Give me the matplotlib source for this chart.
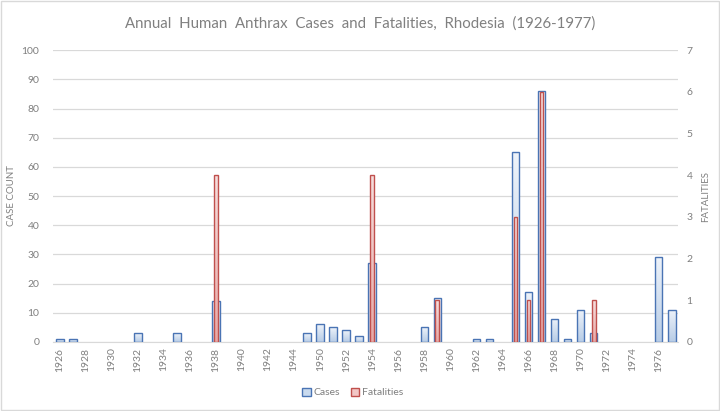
import numpy as np
import matplotlib.pyplot as plt
from matplotlib.patches import Patch, Rectangle

# categories as they appear on the source axis (one gap year between 1944 and 1950)
years = [str(y) for y in range(1926, 1945)] + ["1949"] + [str(y) for y in range(1950, 1978)]

case_values = {
    "1926": 1, "1927": 1, "1932": 3, "1935": 3, "1938": 14,
    "1949": 3, "1950": 6, "1951": 5, "1952": 4, "1953": 2, "1954": 27,
    "1958": 5, "1959": 15, "1962": 1, "1963": 1,
    "1965": 65, "1966": 17, "1967": 86, "1968": 8, "1969": 1,
    "1970": 11, "1971": 3, "1976": 29, "1977": 11,
}
fatality_values = {
    "1938": 4, "1954": 4, "1959": 1, "1965": 3, "1966": 1, "1967": 6, "1971": 1,
}

cases = [case_values.get(y, 0) for y in years]
fatalities = [fatality_values.get(y, 0) for y in years]

TXT = "#7f7f7f"
plt.rcParams["font.family"] = ["Lato", "DejaVu Sans"]


def gradient_bars(ax, bars, top_color, bottom_color):
    """Fill each bar with a vertical gradient clipped to its outline."""
    grad = np.linspace(0, 1, 64).reshape(-1, 1)
    c0 = np.array(plt.matplotlib.colors.to_rgb(top_color))
    c1 = np.array(plt.matplotlib.colors.to_rgb(bottom_color))
    img = (c0 + (c1 - c0) * grad[:, :, None]).reshape(64, 1, 3)
    for b in bars:
        h = b.get_height()
        if h <= 0:
            b.set_visible(False)  # empty years show nothing
            continue
        x0 = b.get_x()
        w = b.get_width()
        im = ax.imshow(img, extent=(x0, x0 + w, 0, h), aspect="auto",
                       origin="upper", zorder=b.get_zorder() - 0.1)
        im.set_clip_path(b)


fig = plt.figure(figsize=(7.2, 4.11), dpi=100)
ax = fig.add_axes([0.074, 0.168, 0.868, 0.71])
ax2 = ax.twinx()

x = np.arange(len(years))

bars_c = ax.bar(x, cases, width=0.58, facecolor="none", edgecolor="#4a74b4",
                linewidth=1.0, zorder=3)
gradient_bars(ax, bars_c, "#eef3fa", "#b7cce6")

bars_f = ax2.bar(x, fatalities, width=0.3, facecolor="none", edgecolor="#c0504d",
                 linewidth=1.0, zorder=3)
gradient_bars(ax2, bars_f, "#f6dedd", "#e8a9a7")

ax.set_xlim(-0.5, len(years) - 0.5)
ax.set_ylim(0, 100)
ax2.set_ylim(0, 7)
ax.set_yticks(range(0, 101, 10))
ax2.set_yticks(range(0, 8))

ax.set_xticks(x[::2])
ax.set_xticklabels(years[::2], rotation=90)

ax.grid(axis="y", color="#d9d9d9", linewidth=0.9, zorder=0)
ax.set_axisbelow(True)

for a in (ax, ax2):
    for s in a.spines.values():
        s.set_visible(False)
    a.tick_params(length=0, colors=TXT, labelsize=7.5)
ax.spines["bottom"].set_visible(True)
ax.spines["bottom"].set_color("#d9d9d9")
ax.tick_params(axis="y", pad=10)
ax2.tick_params(axis="y", pad=6)
ax.tick_params(axis="x", pad=4)

ax.set_ylabel("CASE COUNT", color=TXT, fontsize=7, labelpad=4)
ax2.set_ylabel("FATALITIES", color=TXT, fontsize=7, labelpad=6, rotation=90)

fig.suptitle("Annual  Human  Anthrax  Cases  and  Fatalities,  Rhodesia  (1926-1977)",
             y=0.96, fontsize=10.8, color="#808080")

handles = [
    Patch(facecolor="#c9daee", edgecolor="#4a74b4", label="Cases"),
    Patch(facecolor="#f2c7c6", edgecolor="#c0504d", label="Fatalities"),
]
fig.legend(handles=handles, loc="center", bbox_to_anchor=(0.49, 0.045), ncol=2,
           frameon=False, fontsize=7.5, labelcolor=TXT, handlelength=0.8,
           handleheight=0.8, handletextpad=0.3, columnspacing=1.0)

fig.patches.append(Rectangle((0.002, 0.002), 0.996, 0.996, transform=fig.transFigure,
                             fill=False, edgecolor="#d9d9d9", linewidth=1.0))

fig.savefig("out.png", dpi=100)
